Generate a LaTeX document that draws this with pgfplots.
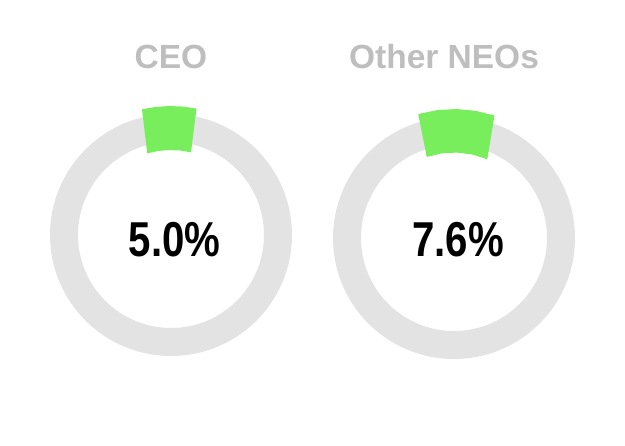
\documentclass[border=0pt]{standalone}
\usepackage{pgfplots}
\pgfplotsset{compat=1.18}
\usepackage{pgfplotstable}
\usepackage{fontspec}
\setmainfont{Liberation Sans}
\definecolor{ringgray}{HTML}{E3E3E3}
\definecolor{segGreen}{HTML}{78EE5C}
\definecolor{titlegray}{HTML}{BEBEBE}

% green segment outlines (angle in degrees, radius in px), value 5.0 % and 7.6 %
\pgfplotstableread{
ang rad
103.0 129
96.9 129
90.8 129
84.7 129
78.6 129
76.4 85
83.9 85
91.3 85
98.8 85
106.2 85
}\ceoseg
\pgfplotstableread{
ang rad
106.1 129
97.5 129
88.9 129
80.3 129
71.7 129
67.1 85.5
77.5 85.5
87.9 85.5
98.2 85.5
108.6 85.5
}\neoseg

\begin{document}
\begin{tikzpicture}
\path[use as bounding box] (0,0) rectangle (625bp,446bp);
\pgfplotsset{donut/.style={x=1bp,y=1bp,xmin=-135,xmax=135,ymin=-135,ymax=135,
  hide axis,clip=false,anchor=center}}
% CEO
\begin{axis}[donut,at={(171bp,211bp)}]
\draw[ringgray,line width=28bp] (axis cs:0,0) circle[radius=107];
\addplot[fill=segGreen,draw=none,data cs=polar] table[x=ang,y=rad] \ceoseg -- cycle;
\end{axis}
% Other NEOs
\begin{axis}[donut,at={(454bp,208bp)}]
\draw[ringgray,line width=28bp] (axis cs:0,0) circle[radius=107];
\addplot[fill=segGreen,draw=none,data cs=polar] table[x=ang,y=rad] \neoseg -- cycle;
\end{axis}
% titles
\node[anchor=base,text=titlegray,font=\fontsize{33.5bp}{36bp}\selectfont\bfseries] at (171bp,377bp) {CEO};
\node[anchor=base,text=titlegray,font=\fontsize{33.5bp}{36bp}\selectfont\bfseries] at (444bp,377bp) {Other NEOs};
% centre values
\node[anchor=base,inner sep=0pt,font=\fontsize{49bp}{52bp}\selectfont\bfseries] at (174.7bp,189.3bp) {\scalebox{0.82}[1]{5.0\%}};
\node[anchor=base,inner sep=0pt,font=\fontsize{49bp}{52bp}\selectfont\bfseries] at (458bp,189.3bp) {\scalebox{0.82}[1]{7.6\%}};
\end{tikzpicture}
\end{document}
